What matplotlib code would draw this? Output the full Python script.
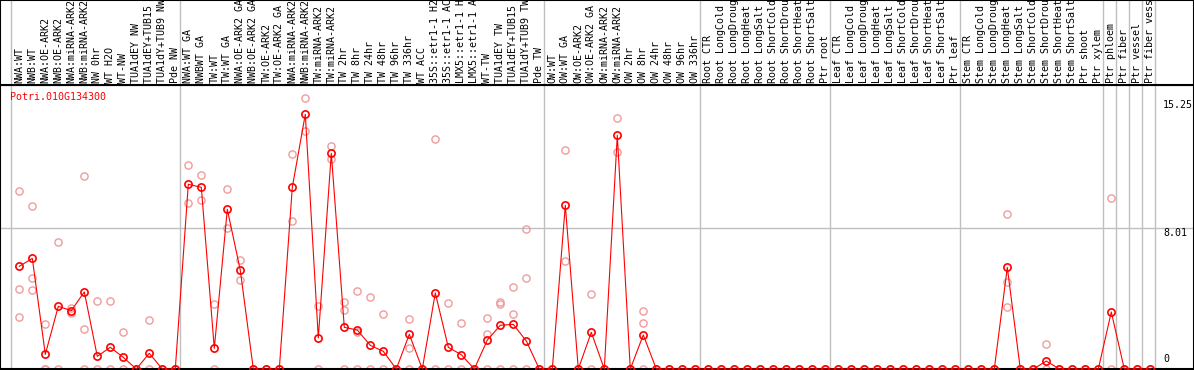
import numpy as np
import matplotlib
matplotlib.use("Agg")
import matplotlib.pyplot as plt

##### Data #####
gene = "Potri.010G134300"

labels = ["NWA:WT", "NWB:WT", "NWA:OE-ARK2", "NWB:OE-ARK2", "NWA:miRNA-ARK2", "NWB:miRNA-ARK2",
          "NW 0hr", "WT H2O", "WT-NW", "TUA1dEY NW", "TUA1dEY+TUB15 NW", "TUA1dY+TUB9 NW", "Pde NW",
          "NWA:WT GA", "NWBWT GA", "TW:WT", "TW:WT GA", "NWA:OE-ARK2 GA", "NWB:OE-ARK2 GA",
          "TW:OE-ARK2", "TW:OE-ARK2 GA", "NWA:miRNA-ARK2", "NWB:miRNA-ARK2", "TW:miRNA-ARK2",
          "TW:miRNA-ARK2", "TW 2hr", "TW 8hr", "TW 24hr", "TW 48hr", "TW 96hr", "TW 336hr", "WT ACC",
          "35S::etr1-1 H2O", "35S::etr1-1 ACC", "LMX5::etr1-1 H2O", "LMX5::etr1-1 ACC", "WT-TW",
          "TUA1dEY TW", "TUA1dEY+TUB15 TW", "TUA1dY+TUB9 TW", "Pde TW",
          "OW:WT", "OW:WT GA", "OW:OE-ARK2", "OW:OE-ARK2 GA", "OW:miRNA-ARK2", "OW:miRNA-ARK2",
          "OW 2hr", "OW 8hr", "OW 24hr", "OW 48hr", "OW 96hr", "OW 336hr",
          "Root CTR", "Root LongCold", "Root LongDrought", "Root LongHeat", "Root LongSalt",
          "Root ShortCold", "Root ShortDrought", "Root ShortHeat", "Root ShortSalt", "Ptr root",
          "Leaf CTR", "Leaf LongCold", "Leaf LongDrought", "Leaf LongHeat", "Leaf LongSalt",
          "Leaf ShortCold", "Leaf ShortDrought", "Leaf ShortHeat", "Leaf ShortSalt", "Ptr leaf",
          "Stem CTR", "Stem LongCold", "Stem LongDrought", "Stem LongHeat", "Stem LongSalt",
          "Stem ShortCold", "Stem ShortDrought", "Stem ShortHeat", "Stem ShortSalt", "Ptr shoot",
          "Ptr xylem", "Ptr phloem", "Ptr fiber", "Ptr vessel", "Ptr fiber vessel"]

mean_vals = [5.82, 6.27, 0.83, 3.55, 3.31, 4.37, 0.72, 1.23, 0.66, 0, 0.89, 0, 0,
             10.47, 10.30, 1.17, 9.05, 5.60, 0, 0, 0, 10.30, 14.44, 1.76,
             12.23, 2.36, 2.21, 1.34, 1.00, 0, 1.97, 0, 4.31, 1.23, 0.81, 0, 1.64,
             2.48, 2.53, 1.59, 0,
             0, 9.28, 0, 2.08, 0, 13.25, 0, 1.93, 0, 0, 0, 0,
             0, 0, 0, 0, 0, 0, 0, 0, 0, 0,
             0, 0, 0, 0, 0, 0, 0, 0, 0, 0,
             0, 0, 0, 5.76, 0, 0, 0.45, 0, 0, 0,
             0, 3.23, 0, 0, 0]

reps = [[10.09, 4.52, 2.93], [9.22, 5.14, 4.48], [2.53, 0, 0], [7.18, 0], [3.16, 3.45],
        [10.92, 2.25, 0], [3.85, 0], [3.85, 0], [2.08, 0], [0], [2.76, 0], [0], [0],
        [11.55, 9.39], [10.98, 9.58], [3.67, 0], [10.19, 7.99], [6.16, 5.03], [0], [0], [0],
        [12.19, 8.39], [15.35, 13.47], [3.55, 0], [12.64, 11.89], [3.80, 3.33, 0],
        [4.40, 2.10, 0], [4.06, 0], [3.10, 0], [0], [2.82, 1.17, 0], [0], [13.04, 0],
        [3.72, 0], [2.61, 0], [0], [2.87, 1.97, 0], [3.78, 3.67, 0], [4.65, 3.10, 0],
        [7.92, 5.14, 0], [0],
        [0], [12.40, 6.11], [0], [4.25, 0], [0], [14.21, 12.28], [0], [3.29, 2.59, 0],
        [0], [0], [0], [0],
        [0], [0], [0], [0], [0], [0], [0], [0], [0], [0],
        [0], [0], [0], [0], [0], [0], [0], [0], [0], [0],
        [0], [0], [0], [8.77, 4.95, 3.50], [0], [0], [1.40, 0], [0], [0], [0],
        [0], [9.68, 0], [0], [0], [0]]

group_starts = [0, 13, 41, 53, 63, 73, 84, 85, 86, 87, 88]
y_ticks = [0, 8.01, 15.25]

##### Layout (pixels) #####
W, H = 1194, 370
px = 17.64          # pixels per unit
x0, dx = 19.3, 13.0 # first column centre, column spacing
top_band = 85
plot_h = 369 - top_band

mono = "DejaVu Sans Mono"
fs = 7.2
grey = "#c0c0c0"
pink = "#f09c9c"

fig = plt.figure(figsize=(W / 100, H / 100), dpi=100)
ax = fig.add_axes([0, 1 / H, 1, plot_h / H])
lab = fig.add_axes([0, (H - top_band) / H, 1, top_band / H], sharex=ax)

ax.set_xlim(-x0 / dx, (W - x0) / dx)
ax.set_ylim(0, plot_h / px)

x = np.arange(len(labels))

# grid
for g in group_starts:
    ax.axvline(g - 0.64, color=grey, lw=1, zorder=0)
    lab.axvline(g - 0.64, color=grey, lw=1, zorder=0)
ax.axhline(y_ticks[1], color=grey, lw=1, zorder=0)

# replicate points
for i, r in enumerate(reps):
    ax.plot([i] * len(r), r, "o", ms=5.2, mfc="none", mec=pink, mew=1.0,
            clip_on=False, zorder=2)

# mean line and points
ax.plot(x, mean_vals, "-", color="red", lw=0.8, zorder=3, clip_on=False)
ax.plot(x, mean_vals, "o", ms=5.2, mfc="none", mec="red", mew=1.2,
        clip_on=False, zorder=4)

# y labels on the right
tx = 1163 / W
ax.text(tx, y_ticks[2], "%.2f" % y_ticks[2], transform=ax.get_yaxis_transform(),
        family=mono, fontsize=fs, va="top", ha="left")
ax.text(tx, y_ticks[1], "%.2f" % y_ticks[1], transform=ax.get_yaxis_transform(),
        family=mono, fontsize=fs, va="top", ha="left")
ax.text(tx, 0.3, "0", transform=ax.get_yaxis_transform(),
        family=mono, fontsize=fs, va="bottom", ha="left")

ax.text(10 / W, 1 - 12 / plot_h, gene, transform=ax.transAxes, family=mono,
        fontsize=fs, color="red", va="center", ha="left")

ax.set_xticks([])
ax.set_yticks([])
for s in ax.spines.values():
    s.set_color("black")
    s.set_linewidth(1.5)

# column labels (long ones are cut at the top edge, as in the original)
for i, name in enumerate(labels):
    lab.text(i, 2 / top_band, name, rotation=90, family=mono, fontsize=fs,
             ha="center", va="bottom", clip_on=True)
lab.set_ylim(0, 1)
lab.set_xticks([])
lab.set_yticks([])
for s in lab.spines.values():
    s.set_color("black")
    s.set_linewidth(1.5)

fig.savefig("out.png", dpi=100, facecolor="white")
